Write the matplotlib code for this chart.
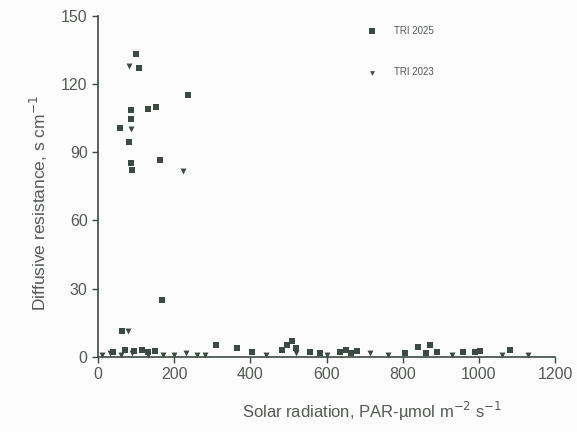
import matplotlib
matplotlib.use("Agg")
import matplotlib.pyplot as plt

# ── data ─────────────────────────────────────────────────────────────────────
tri2025_x = [100, 108, 235, 132, 151, 86, 86, 58, 82, 163, 86, 88, 168, 62,
             40, 70, 95, 115, 130, 150, 310, 364, 403, 482, 495, 508, 521, 556, 583,
             635, 650, 665, 680, 806, 840, 871, 862, 889, 958, 990, 1003, 1081]
tri2025_y = [133, 127, 115, 109, 110, 108.5, 104.5, 100.4, 94.5, 86.5, 85, 82, 25, 11.5,
             2, 3, 2.5, 3, 2, 2.5, 5.3, 3.8, 2.3, 3, 5, 6.8, 4, 2.3, 1.8,
             2, 3, 1.5, 2.5, 1.8, 4.5, 5.3, 1.8, 2, 2.3, 2.3, 2.5, 3]

tri2023_x = [80, 86, 224, 78, 10, 30, 60, 90, 130, 170, 200, 230, 260, 280,
             440, 520, 600, 714, 760, 930, 1060, 1129]
tri2023_y = [128, 100, 81.7, 11.5, 1, 1.5, 1, 1.5, 1, 1, 1, 1.5, 1, 1,
             1, 1.5, 1, 1.8, 1, 1, 1, 1]

x_ticks = [0, 200, 400, 600, 800, 1000, 1200]
y_ticks = [0, 30, 60, 90, 120, 150]

ink = "#3b4a42"
txt = "#555a55"
plt.rcParams["font.family"] = ["Liberation Sans", "DejaVu Sans"]

fig = plt.figure(figsize=(5.77, 4.32), dpi=100, facecolor="#fbfcfb")
ax = fig.add_axes([0.170, 0.174, 0.792, 0.790])
ax.set_facecolor("#fbfcfb")

ax.scatter(tri2025_x, tri2025_y, marker="s", s=22, color=ink, lw=0,
           label="TRI 2025", clip_on=False, zorder=3)
ax.scatter(tri2023_x, tri2023_y, marker="v", s=18, color=ink, lw=0,
           label="TRI 2023", clip_on=False, zorder=3)

ax.set_xlim(0, 1200)
ax.set_ylim(0, 150)
ax.set_xticks(x_ticks)
ax.set_yticks(y_ticks)
ax.spines[["top", "right"]].set_visible(False)
ax.spines[["left", "bottom"]].set_color(ink)
ax.spines[["left", "bottom"]].set_linewidth(1.2)
ax.tick_params(colors=ink, labelcolor=txt, labelsize=11.5, length=4, width=1)

ax.set_xlabel("Solar radiation, PAR-\u00b5mol m$^{-2}$ s$^{-1}$",
              color=txt, fontsize=12)
ax.set_ylabel("Diffusive resistance, s cm$^{-1}$", color=txt, fontsize=12.5)
ax.xaxis.set_label_coords(0.6, -0.125)
ax.yaxis.set_label_coords(-0.105, 0.45)

ax.legend(loc="upper left", bbox_to_anchor=(0.56, 0.995), frameon=False,
          fontsize=7, labelcolor=txt, labelspacing=3.2, handletextpad=1.2,
          markerscale=0.8)

plt.savefig("out.png", dpi=100, facecolor=fig.get_facecolor())
